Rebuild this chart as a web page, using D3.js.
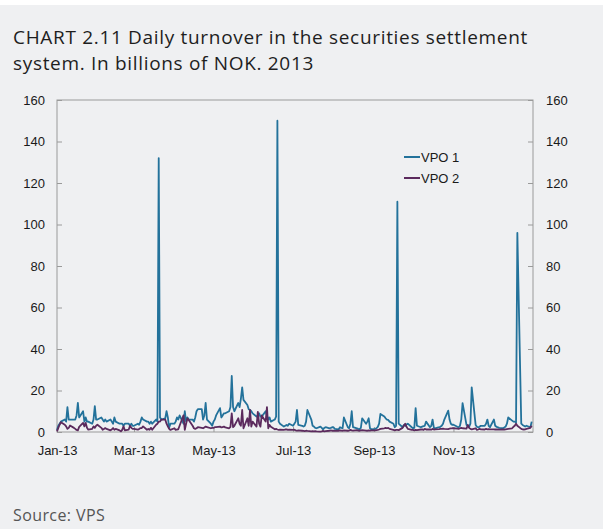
<!DOCTYPE html>
<html>
<head>
<meta charset="utf-8">
<script src="https://cdn.jsdelivr.net/npm/d3@7"></script>
<style>
  body { margin: 0; background: #fff; }
  svg { display: block; }
</style>
</head>
<body>
<div id="chart"></div>
<script>
// daily values per month (business days), billions of NOK
const vpo1 = [
  [1,3,4,5,6,5,12,6,6,6,6,8,14,7,10,5,7,5,5,4,6,12.5,6],
  [6,7,6,5,6,5,6,5,4,7,5,4,4,4,3,4,4,3,4,3],
  [3,4,3.5,5,7,6,5,5,4,5,4,6,5,132,7,6,6.6,10,7,2,4],
  [4,5,7,6,8,4,10,5,7,6,6,5,7,10,11,11,6,8,14,6,4,3],
  [5,6,8,11.5,7,8,9,9,10,12,27,12,10,14,12,16,21.5,15.5,13,11,10.6,10,9],
  [7.4,8,9,7.4,7.4,10,8,6,7,5,6,7.4,150,5,4,2.6,3,3.4,3,4],
  [3,4,5,10.6,3.4,3,2.6,3,5,10.6,6,3,2.6,2,1.8,2.6,2,1.3,2,2.3,1.8,2,2.3],
  [2.3,1.5,1.3,2.3,2,1.8,7,2.3,1.8,4,10,2.3,1.8,1.5,1.3,2,6.6,4,5,6.6,1.8,1.3],
  [1.5,1.8,2.5,4,8.7,7.5,6.6,6,5.8,5,4,2.3,3,111,4,2.3,3.4,3,3.6,4,2.3],
  [1.8,2,11.5,3,2.3,2.6,2.8,3,5,2.3,3,6,2,1.8,2.3,2.5,3,4,6,10.3,6,4,3.5],
  [3.5,2.5,2.3,3,6,13.9,3.4,3,2.5,4,21.5,3.4,2.5,2.3,2.5,3,3,4,6,3,2.3],
  [6,3,2.5,2.3,2,1.8,2.2,2.6,4,7,5.5,5,5,4.5,96,4,3.4,3,2.6,3,2.3,5]
];
const vpo2 = [
  [0.3,2,3.5,4.7,3.5,2.7,1.5,2,3.1,2,1.5,1,0.8,2.5,4.4,2.7,4.4,2,1.1,1.5,2.7,2,3],
  [3.5,2,1.1,1.5,1.9,1.5,0.8,1.2,1.9,1.1,1.5,0.8,0.3,1,2.7,0.8,1.2,3,2,1.5],
  [1.5,1.1,1.5,1.9,1.9,2.7,1.1,1.5,1.1,2,1.1,3.5,4,5,5,6,6,4,2.7,1.5,1],
  [1.8,1,1.2,1.3,3,8,1,4,6.6,5.8,3,1.8,1.5,1.8,2.3,2,1.8,2.2,2.6,2.4,1.8,2],
  [2,2.3,2.4,2.6,2.2,2.4,2.6,2.2,1.8,2.5,9,2.3,3,6.6,4,3,10.6,1.8,6.6,3,10.6,2.6,5],
  [2.6,9.7,4,2.6,8,5,12,1.8,3.4,2.5,1.3,1.5,1.2,1,1.1,1,1.2,1.3,1,1.1],
  [1,1.1,0.8,0.6,0.8,0.6,0.5,0.4,0.6,0.5,0.3,0.4,0.3,0.4,0.3,0.2,0.3,0.5,0.3,0.4,0.6,0.8,0.6],
  [0.6,0.5,0.6,0.8,0.7,0.6,0.8,0.6,0.7,1,0.8,0.7,0.9,0.7,0.6,0.8,0.9,0.7,0.6,0.8,0.7,0.8],
  [0.8,0.9,1,1.2,1.5,1.8,2,1.8,2,1.5,1,0.8,1,1,0.9,2,3,4,2.5,1.5,1],
  [1,0.8,1,0.9,1.2,1.3,1,1.5,1.2,1.3,1.1,1.5,1.2,1.3,1.4,1.5,1.5,1.6,1.5,1.4,1.6,1.7,1.8],
  [1.8,1.6,1.5,1.8,2,1.8,1.6,3.4,2,1.5,1.3,1.8,1,1.2,1.5,1.3,1.2,1.5,1.3,1.4,1.3],
  [1.3,1.2,1.3,1.2,1.1,1.3,1.2,1.3,1.4,1.5,1.8,2.5,3,4,3,1.5,1.3,1.2,1.3,1.5,2,3]
];
const seriesNames = ["VPO 1", "VPO 2"];
const yTicks = [0, 20, 40, 60, 80, 100, 120, 140, 160];
const xTickLabels = ["Jan-13", "Mar-13", "May-13", "Jul-13", "Sep-13", "Nov-13"];

const width = 603, height = 529;
const margin = {top: 100, right: 70, bottom: 97, left: 57};
const colors = ["#23729b", "#5b2a5d"];

let svg = d3.select('#chart').append('svg')
  .attr('width', width)
  .attr('height', height);

svg.append('rect')
  .attr('x', 0).attr('y', 5)
  .attr('width', width).attr('height', height - 5)
  .attr('fill', '#eff0f2');

// weekdays of 2013 grouped by month
let days = d3.timeDays(new Date(2013, 0, 1), new Date(2014, 0, 1))
  .filter(d => d.getDay() !== 0 && d.getDay() !== 6);
let byMonth = d3.range(12).map(m => days.filter(d => d.getMonth() === m));

const pairUp = (vals) => {
  let out = [];
  vals.forEach((arr, m) => {
    arr.forEach((v, i) => { if (byMonth[m][i]) out.push({date: byMonth[m][i], value: v}) })
  })
  return out;
}
let data = [pairUp(vpo1), pairUp(vpo2)];

let x = d3.scaleTime()
  .domain([new Date(2013, 0, 1), new Date(2014, 0, 1)])
  .range([margin.left, width - margin.right]);

let y = d3.scaleLinear()
  .domain([0, 160])
  .range([height - margin.bottom, margin.top]);

// frame
svg.append('rect')
  .attr('x', margin.left).attr('y', margin.top)
  .attr('width', width - margin.right - margin.left)
  .attr('height', height - margin.bottom - margin.top)
  .attr('fill', 'none')
  .attr('stroke', '#9a9a9a')
  .attr('stroke-width', 1);

const axisFont = "'Liberation Sans', Arial, sans-serif";

let yLeft = svg.append('g')
  .attr('transform', `translate(${margin.left},0)`)
  .call(d3.axisLeft(y).tickValues(yTicks).tickSize(-5).tickPadding(12));
let yRight = svg.append('g')
  .attr('transform', `translate(${width - margin.right},0)`)
  .call(d3.axisRight(y).tickValues(yTicks).tickSize(-5).tickPadding(13));

let monthTicks = d3.range(0, 12, 2).map(m => new Date(2013, m, 1));
let xAxis = svg.append('g')
  .attr('transform', `translate(0,${height - margin.bottom})`)
  .call(d3.axisBottom(x).tickValues(monthTicks).tickSize(-5).tickPadding(14)
    .tickFormat((d, i) => xTickLabels[i]));

[yLeft, yRight, xAxis].forEach(g => {
  g.attr('font-family', axisFont);
  g.select('.domain').remove();
  g.selectAll('.tick line').attr('stroke', '#9a9a9a');
  g.selectAll('.tick text')
    .style('font-family', axisFont)
    .style('font-size', '13px')
    .attr('fill', '#1a1a1a');
});

let line = d3.line()
  .x(d => x(d.date))
  .y(d => y(d.value));

svg.append('g')
  .selectAll('path')
  .data(data)
  .enter()
  .append('path')
  .attr('d', line)
  .attr('fill', 'none')
  .attr('stroke', (d, i) => colors[i])
  .attr('stroke-width', 1.8)
  .attr('stroke-linejoin', 'round');

// legend
let legend = svg.append('g')
  .selectAll('g')
  .data(seriesNames)
  .enter()
  .append('g')
  .attr('transform', (d, i) => `translate(404,${157 + i * 21})`);

legend.append('line')
  .attr('x1', 0).attr('x2', 16)
  .attr('stroke', (d, i) => colors[i])
  .attr('stroke-width', 2);

legend.append('text')
  .attr('x', 17).attr('y', 5)
  .style('font-family', axisFont)
  .style('font-size', '13px')
  .attr('fill', '#1a1a1a')
  .text(d => d);

// title and source
const titleFont = "'Open Sans', 'Noto Sans', sans-serif";
let title = svg.append('text')
  .attr('x', 13).attr('y', 44)
  .style('font-family', titleFont)
  .style('font-size', '19px')
  .style('letter-spacing', '0.68px')
  .attr('fill', '#1e1e1e');
title.append('tspan').attr('x', 13).text('CHART 2.11 Daily turnover in the securities settlement');
title.append('tspan').attr('x', 13).attr('dy', 26).text('system. In billions of NOK. 2013');

svg.append('text')
  .attr('x', 13).attr('y', 521)
  .style('font-family', titleFont)
  .style('font-size', '16px')
  .style('letter-spacing', '0.4px')
  .attr('fill', '#555')
  .text('Source: VPS');
</script>
</body>
</html>
